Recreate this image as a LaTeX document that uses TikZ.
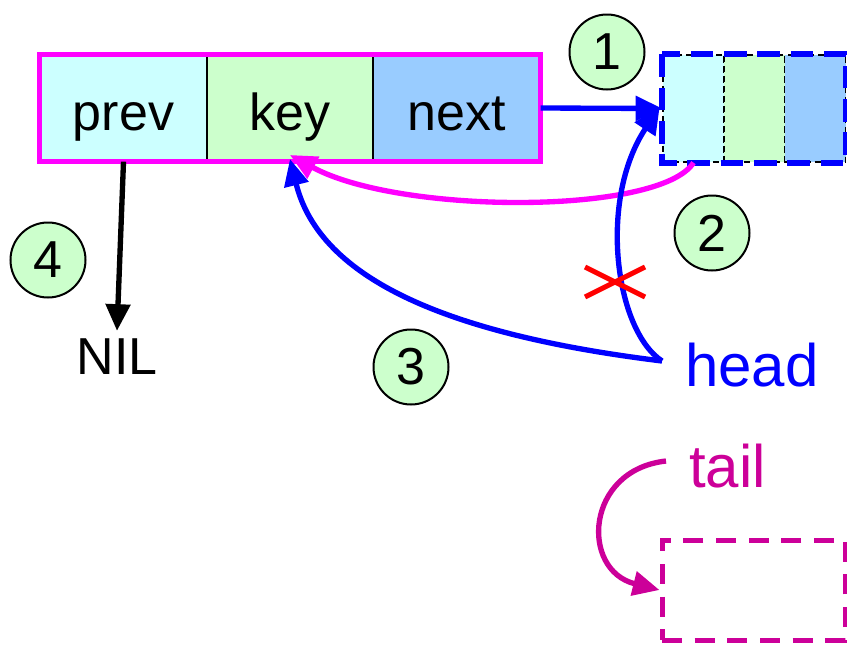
\documentclass[tikz,border=0pt]{standalone}
\usepackage{fontspec}
\setmainfont{Liberation Sans}
\usetikzlibrary{arrows.meta}
\definecolor{cellA}{HTML}{CCFFFF}
\definecolor{cellB}{HTML}{CCFFCC}
\definecolor{cellC}{HTML}{99CCFF}
\definecolor{tailc}{HTML}{CC0099}
\definecolor{pink}{HTML}{FF00FF}
\tikzset{
  big/.style={font=\fontsize{39}{44}\selectfont},
  bigger/.style={font=\fontsize{45}{50}\selectfont},
  cell/.style={draw=black, line width=1pt, minimum height=106*0.75pt, inner sep=0pt,
               text height=33pt, text depth=0pt, big},
  ghost/.style={draw=black, line width=1pt, dash pattern=on 4.5pt off 3pt, minimum height=107*0.75pt, minimum width=61*0.75pt, inner sep=0pt},
  stepnum/.style={circle, draw=black, line width=1.5pt, fill=cellB, minimum size=75*0.75pt, inner sep=0pt, big},
  tip/.style={-{Triangle[length=20pt, width=18pt]}},
  link/.style={line width=4pt, tip},
}
\begin{document}
\begin{tikzpicture}[x=0.75pt, y=-0.75pt]
\useasboundingbox (0,0) rectangle (847,650);

% the list element being inserted
\node[cell, fill=cellA, minimum width=167*0.75pt] (prev) at (123.5,108) {prev};
\node[cell, fill=cellB, minimum width=166*0.75pt] (key)  at (290,108) {key};
\node[cell, fill=cellC, minimum width=167*0.75pt] (next) at (456.5,108) {next};
\draw[pink, line width=3.75pt] (prev.north west) rectangle (next.south east);

% the old head element
\node[ghost, fill=cellA] (oa) at (693.5,108.5) {};
\node[ghost, fill=cellB] (ob) at (754.5,108.5) {};
\node[ghost, fill=cellC] (oc) at (815,108.5) {};
\draw[blue, line width=4.5pt, dash pattern=on 17pt off 8pt] (oa.north west) rectangle (oc.south east);

% list pointers
\node[bigger, text=blue, anchor=base west, inner sep=0pt] (head) at (685,386) {head};
\node[bigger, text=tailc, anchor=base west, inner sep=0pt] (tail) at (689,487) {tail};
\node[draw=tailc, line width=3.75pt, dash pattern=on 15pt off 9.5pt, minimum width=183*0.75pt, minimum height=100*0.75pt, inner sep=0pt] (tbox) at (753.5,590) {};
\node[big, inner sep=0pt] (nil) at (117,357) {NIL};

\coordinate (hs) at (662,361);
\coordinate (ts) at (666,461);

% step markers
\node[stepnum] (s1) at (607,52) {1};
\node[stepnum] (s2) at (712,233) {2};
\node[stepnum] (s3) at (411,367) {3};
\node[stepnum] (s4) at (48,260) {4};

% 1: x.next = L.head
\draw[link, blue] (next.east) -- (oa.west);
% 2: L.head.prev = x
\draw[link, pink] (oa.south) .. controls (660,215) and (400,215) .. ([yshift=5pt]key.south);
% 3: L.head = x
\draw[link, blue] (hs) .. controls (450,335) and (320,280) .. ([yshift=2pt]key.south);
% old head pointer, now removed
\draw[link, blue] (hs) .. controls (615,330) and (598,200) .. ([xshift=-2pt,yshift=1pt]oa.west);
\coordinate (cx) at (615,282);
\draw[red, line width=3.75pt] ([shift={(-30,-15)}]cx) -- ([shift={(30,15)}]cx)
                              ([shift={(-30,15)}]cx) -- ([shift={(30,-15)}]cx);
% 4: x.prev = NIL
\draw[link, black] (prev.south) -- ([yshift=6pt]nil.north);
% tail pointer
\draw[link, tailc] (ts) .. controls (585,470) and (580,570) .. (tbox.west);
\end{tikzpicture}
\end{document}
